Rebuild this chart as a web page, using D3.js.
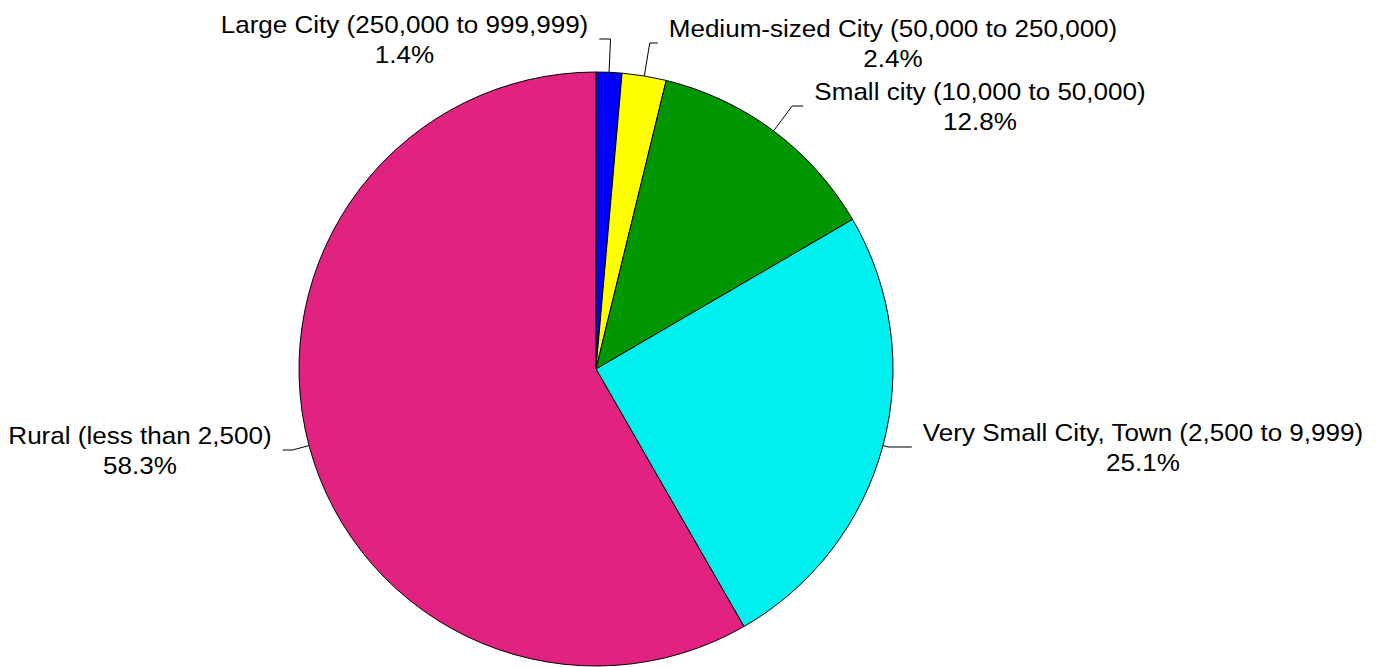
<!DOCTYPE html>
<html>
<head>
<meta charset="utf-8">
<script src="https://cdn.jsdelivr.net/npm/d3@7"></script>
<style>
  html, body { margin: 0; padding: 0; background: #fff; }
  svg { display: block; }
  text { font-family: "Liberation Sans", Arial, sans-serif; font-size: 24px; fill: #000; }
</style>
</head>
<body>
<svg id="chart" width="1385" height="667"></svg>
<script>
// ---- data ----
const categories = [
  "Large City (250,000 to 999,999)",
  "Medium-sized City (50,000 to 250,000)",
  "Small city (10,000 to 50,000)",
  "Very Small City, Town (2,500 to 9,999)",
  "Rural (less than 2,500)"
];
const shares = [1.4, 2.4, 12.8, 25.1, 58.3];
const percentLabels = ["1.4%", "2.4%", "12.8%", "25.1%", "58.3%"];

// ---- styling / layout ----
const colors = ["#0000FF", "#FFFF00", "#009600", "#00F0F0", "#E22280"];
const labelLayout = [ // label block centre x, first baseline y
  { cx: 404.5, y: 33 },
  { cx: 893, y: 37 },
  { cx: 980, y: 100 },
  { cx: 1143, y: 441 },
  { cx: 140, y: 444 }
];
const cx = 596, cy = 369, R = 297;
const lineGap = 30, scaleX = 1.085, edgeGap = 11;

const svg = d3.select("#chart");
const data = categories.map((c, i) => ({ name: c, value: shares[i], pct: percentLabels[i], color: colors[i], lay: labelLayout[i] }));

const pie = d3.pie().value(d => d.value).sort(null);
const arcs = pie(data);
const arc = d3.arc().innerRadius(0).outerRadius(R);

const g = svg.append("g").attr("transform", `translate(${cx},${cy})`);
g.selectAll("path.slice").data(arcs).join("path")
  .attr("class", "slice")
  .attr("d", arc)
  .attr("fill", d => d.data.color)
  .attr("stroke", "#000")
  .attr("stroke-width", 1)
  .attr("stroke-linejoin", "round");

// labels
const labels = svg.selectAll("g.label").data(arcs).join("g")
  .attr("class", "label")
  .attr("transform", d => `translate(${d.data.lay.cx},${d.data.lay.y}) scale(${scaleX},1)`);
labels.append("text").attr("text-anchor", "middle").attr("x", 0).attr("y", 0).text(d => d.data.name);
labels.append("text").attr("text-anchor", "middle").attr("x", 0).attr("y", lineGap).text(d => d.data.pct);

// leader lines
labels.each(function(d) {
  const texts = d3.select(this).selectAll("text").nodes();
  const w = d3.max(texts, t => t.getComputedTextLength()) * scaleX;
  const a = (d.startAngle + d.endAngle) / 2;
  const sx = cx + R * Math.sin(a), sy = cy - R * Math.cos(a);
  const midY = d.data.lay.y + lineGap / 2 - 9;
  const onRight = d.data.lay.cx > sx;
  const ex = onRight ? d.data.lay.cx - w / 2 - edgeGap : d.data.lay.cx + w / 2 + edgeGap;
  // elbow on the radial line at label's mid height
  const rr = (cy - midY) / Math.cos(a);
  const bx = cx + rr * Math.sin(a);
  let pts;
  if (rr > R && ((onRight && bx < ex) || (!onRight && bx > ex)) ) {
    pts = [[sx, sy], [bx, midY], [ex, midY]];
  } else if (rr > R && Math.abs(Math.cos(a)) > 0.8) {
    pts = [[sx, sy], [bx, midY], [ex, midY]];
  } else {
    pts = [[sx, sy], [ex, midY]];
  }
  svg.append("path")
    .attr("d", d3.line()(pts))
    .attr("fill", "none")
    .attr("stroke", "#000")
    .attr("stroke-width", 1);
});
</script>
</body>
</html>
